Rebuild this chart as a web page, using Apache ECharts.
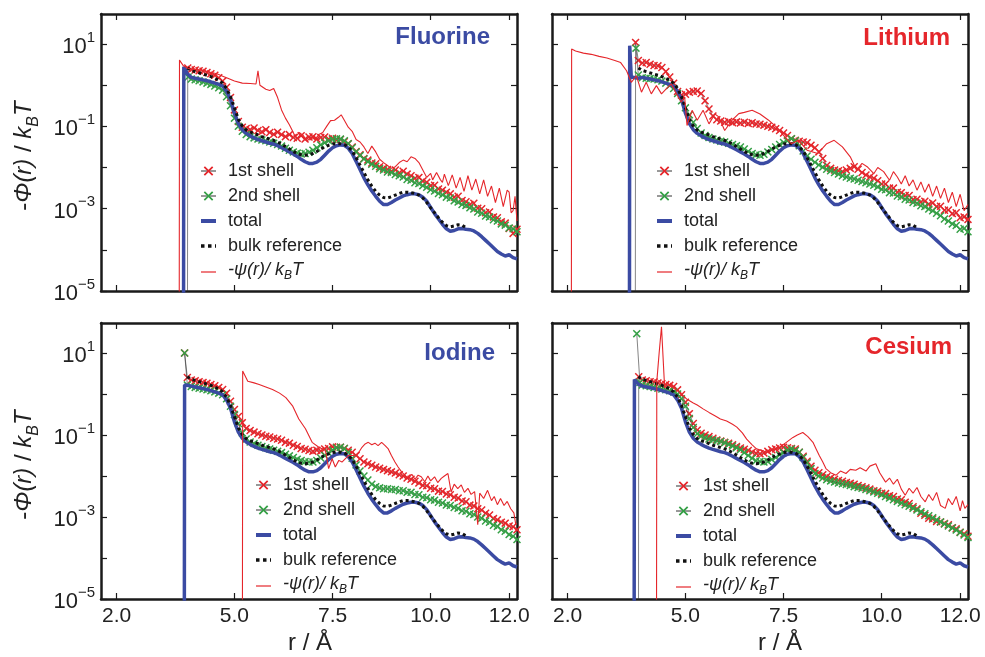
<!DOCTYPE html>
<html>
<head>
<meta charset="utf-8">
<script src="https://cdn.jsdelivr.net/npm/echarts@6/dist/echarts.min.js"></script>
<style>
html, body { margin: 0; background: #fff; }
#chart { width: 985px; height: 657px; }
</style>
</head>
<body>
<div id="chart"></div>
<script>
// all curve values are log10 of -phi(r)/kBT
var rGrid = [3.9, 4.0, 4.1, 4.2, 4.3, 4.4, 4.5, 4.6, 4.7, 4.8,
    4.9, 5.0, 5.1, 5.2, 5.3, 5.4, 5.5, 5.6, 5.7, 5.8,
    5.9, 6.0, 6.1, 6.2, 6.3, 6.4, 6.5, 6.6, 6.7, 6.8,
    6.9, 7.0, 7.1, 7.2, 7.3, 7.4, 7.5, 7.6, 7.7, 7.8,
    7.9, 8.0, 8.1, 8.2, 8.3, 8.4, 8.5, 8.6, 8.7, 8.8,
    8.9, 9.0, 9.1, 9.2, 9.3, 9.4, 9.5, 9.6, 9.7, 9.8,
    9.9, 10.0, 10.1, 10.2, 10.3, 10.4, 10.5, 10.6, 10.7, 10.8,
    10.9, 11.0, 11.1, 11.2, 11.3, 11.4, 11.5, 11.6, 11.7, 11.8,
    11.9, 12.0, 12.1, 12.2];

var xTicks = [2.0, 5.0, 7.5, 10.0, 12.0];
var yTicks = [-5, -4, -3, -2, -1, 0, 1];
var yLabels = [-5, -3, -1, 1];
var panelNames = ['Fluorine', 'Lithium', 'Iodine', 'Cesium'];

// total and bulk reference (same shape in every panel)
var totalLog = [0.19, 0.17, 0.15, 0.13, 0.11, 0.08, 0.05, 0.02, -0.02, -0.15,
    -0.35, -0.68, -0.93, -1.08, -1.17, -1.23, -1.28, -1.32, -1.35, -1.38,
    -1.41, -1.43, -1.47, -1.52, -1.57, -1.62, -1.67, -1.73, -1.8, -1.86,
    -1.9, -1.9, -1.87, -1.8, -1.7, -1.6, -1.52, -1.47, -1.45, -1.46,
    -1.53, -1.66, -1.85, -2.05, -2.25, -2.42, -2.57, -2.7, -2.82, -2.9,
    -2.9, -2.85, -2.79, -2.74, -2.69, -2.66, -2.64, -2.64, -2.66, -2.72,
    -2.82, -2.97, -3.12, -3.25, -3.38, -3.49, -3.55, -3.53, -3.49, -3.48,
    -3.5, -3.51, -3.54, -3.6, -3.68, -3.77, -3.86, -3.95, -4.04, -4.1,
    -4.15, -4.12, -4.19, -4.22];
var bulkHead = [[3.8, 0.42]];
var bulkLog = [0.36, 0.33, 0.3, 0.27, 0.24, 0.21, 0.17, 0.12, 0.05, -0.08,
    -0.28, -0.55, -0.83, -0.99, -1.09, -1.14, -1.17, -1.21, -1.25, -1.28,
    -1.31, -1.34, -1.38, -1.43, -1.49, -1.55, -1.61, -1.66, -1.69, -1.7,
    -1.69, -1.66, -1.61, -1.55, -1.5, -1.46, -1.43, -1.42, -1.42, -1.44,
    -1.5, -1.6, -1.76, -1.94, -2.12, -2.3, -2.45, -2.58, -2.67, -2.73,
    -2.74, -2.71, -2.67, -2.63, -2.6, -2.6, -2.61, -2.63, -2.67, -2.74,
    -2.85, -2.98, -3.1, -3.22, -3.33, -3.41, -3.44, -3.42, -3.39, -3.4, -3.46];

var fluorineTotalHead = [[3.7, -9], [3.71, 0.45], [3.8, 0.28]];
var lithiumTotalHead = [[3.57, -9], [3.58, 0.96], [3.62, 0.2], [3.8, 0.17]];
var iodineTotalHead = [[3.72, -9], [3.73, 0.22], [3.8, 0.21]];
var cesiumTotalHead = [[3.69, -9], [3.7, 0.35], [3.8, 0.24]];

// Fluorine
var fluorineFirstHead = [[3.8, -9], [3.81, 0.42]];
var fluorineFirstLog = [0.38, 0.37, 0.35, 0.34, 0.31, 0.28, 0.24, 0.18, 0.1, -0.05,
    -0.3, -0.6, -0.88, -1.02, -1.05, -1.08, -1.04, -1.1, -1.13, -1.08,
    -1.15, -1.19, -1.14, -1.2, -1.25, -1.2, -1.27, -1.29, -1.23, -1.31,
    -1.26, -1.25, -1.31, -1.27, -1.26, -1.31, -1.29, -1.33, -1.32, -1.37,
    -1.42, -1.5, -1.61, -1.69, -1.78, -1.82, -1.89, -1.91, -1.98, -2.02,
    -2.05, -2.09, -2.06, -2.13, -2.09, -2.16, -2.2, -2.26, -2.24, -2.33,
    -2.36, -2.44, -2.43, -2.52, -2.55, -2.6, -2.64, -2.72, -2.7, -2.8,
    -2.83, -2.9, -2.87, -2.99, -3.0, -3.1, -3.08, -3.2, -3.22, -3.32,
    -3.35, -3.48, -3.6, -3.5];
var fluorineSecondHead = [[3.82, 0.2]];
var fluorineSecondLog = [0.15, 0.13, 0.11, 0.08, 0.05, 0.02, -0.02, -0.06, -0.12, -0.28,
    -0.5, -0.8, -1.0, -1.12, -1.2, -1.25, -1.28, -1.31, -1.33, -1.35,
    -1.38, -1.41, -1.44, -1.48, -1.53, -1.58, -1.62, -1.65, -1.67, -1.66,
    -1.63, -1.58, -1.52, -1.45, -1.4, -1.35, -1.32, -1.3, -1.31, -1.35,
    -1.42, -1.52, -1.62, -1.71, -1.79, -1.86, -1.92, -1.97, -2.03, -2.06,
    -2.11, -2.12, -2.17, -2.2, -2.23, -2.29, -2.31, -2.37, -2.39, -2.44,
    -2.48, -2.54, -2.57, -2.63, -2.66, -2.72, -2.74, -2.81, -2.84, -2.9,
    -2.92, -2.98, -3.01, -3.08, -3.11, -3.18, -3.2, -3.27, -3.3, -3.37,
    -3.4, -3.47, -3.49, -3.56];
var fluorinePsi = [[3.59, -9], [3.6, 0.61], [3.7, 0.47], [3.8, 0.42], [3.9, 0.39], [4.0, 0.38],
    [4.2, 0.36], [4.4, 0.31], [4.5, 0.29], [4.6, 0.26], [4.7, 0.22], [4.8, 0.18], [5.0, 0.1],
    [5.2, 0.05], [5.4, 0.04], [5.55, 0.03], [5.6, 0.35], [5.65, 0.0], [5.8, -0.1], [5.9, -0.13],
    [6.0, -0.08], [6.1, -0.3], [6.2, -0.6], [6.3, -0.8], [6.4, -0.96], [6.5, -1.15], [6.55, -1.26],
    [6.65, -1.15], [6.75, -1.22], [6.85, -1.36], [6.95, -1.26], [7.05, -1.32], [7.15, -1.2],
    [7.25, -1.15], [7.35, -1.0], [7.45, -0.86], [7.55, -0.85], [7.65, -0.78], [7.72, -0.72],
    [7.8, -0.85], [7.9, -1.02], [8.0, -1.12], [8.1, -1.32], [8.2, -1.38], [8.3, -1.5], [8.4, -1.66],
    [8.5, -1.48], [8.6, -1.62], [8.7, -1.8], [8.8, -1.88], [8.9, -1.95], [9.0, -2.02], [9.1, -1.98],
    [9.2, -1.88], [9.3, -1.82], [9.4, -1.86], [9.5, -1.74], [9.6, -1.78], [9.7, -1.88], [9.8, -2.06],
    [9.9, -2.24], [10.0, -2.14], [10.05, -2.3], [10.1, -2.32], [10.15, -2.12], [10.2, -2.1],
    [10.25, -2.3], [10.3, -2.36], [10.35, -2.16], [10.4, -2.18], [10.45, -2.44], [10.5, -2.42],
    [10.55, -2.18], [10.6, -2.2], [10.65, -2.5], [10.7, -2.46], [10.75, -2.24], [10.8, -2.28],
    [10.85, -2.58], [10.9, -2.56], [10.95, -2.2], [11.0, -2.24], [11.05, -2.55], [11.1, -2.52],
    [11.15, -2.28], [11.2, -2.3], [11.25, -2.64], [11.3, -2.62], [11.35, -2.3], [11.4, -2.34],
    [11.45, -2.7], [11.5, -2.66], [11.55, -2.45], [11.6, -2.48], [11.65, -2.85], [11.7, -2.82],
    [11.75, -2.5], [11.8, -2.52], [11.85, -2.95], [11.9, -2.92], [11.95, -2.55], [12.0, -2.6],
    [12.05, -3.1], [12.1, -3.05], [12.15, -2.7], [12.2, -3.3]];

// Lithium
var lithiumFirstHead = [[3.72, -9], [3.73, 1.04], [3.8, 0.6]];
var lithiumFirstLog = [0.54, 0.55, 0.51, 0.48, 0.47, 0.43, 0.33, 0.2, 0.05, -0.15,
    -0.24, -0.22, -0.17, -0.15, -0.14, -0.2, -0.38, -0.58, -0.75, -0.84,
    -0.87, -0.9, -0.88, -0.91, -0.89, -0.92, -0.9, -0.93, -0.91, -0.94,
    -0.95, -0.97, -1.0, -1.02, -1.06, -1.1, -1.16, -1.22, -1.3, -1.34,
    -1.36, -1.38, -1.4, -1.46, -1.52, -1.62, -1.78, -1.95, -2.02, -2.06,
    -2.08, -2.1, -2.06, -2.02, -1.98, -2.04, -2.12, -2.18, -2.23, -2.26,
    -2.32, -2.4, -2.4, -2.5, -2.5, -2.6, -2.61, -2.68, -2.68, -2.78,
    -2.77, -2.84, -2.82, -2.89, -2.86, -2.95, -2.94, -3.04, -3.03, -3.12,
    -3.1, -3.22, -3.2, -3.26];
var lithiumSecondHead = [[3.74, 0.9], [3.8, 0.25]];
var lithiumSecondLog = [0.18, 0.17, 0.16, 0.15, 0.13, 0.1, 0.05, -0.01, -0.08, -0.2,
    -0.38, -0.55, -0.72, -0.9, -1.05, -1.16, -1.22, -1.27, -1.31, -1.33,
    -1.36, -1.38, -1.41, -1.44, -1.47, -1.5, -1.55, -1.61, -1.66, -1.69,
    -1.7, -1.68, -1.62, -1.56, -1.5, -1.44, -1.39, -1.35, -1.3, -1.35,
    -1.47, -1.6, -1.72, -1.8, -1.87, -1.94, -1.99, -2.04, -2.08, -2.12,
    -2.16, -2.2, -2.23, -2.26, -2.28, -2.31, -2.34, -2.37, -2.4, -2.43,
    -2.47, -2.53, -2.54, -2.61, -2.62, -2.69, -2.71, -2.77, -2.79, -2.85,
    -2.87, -2.93, -2.95, -3.01, -3.05, -3.11, -3.17, -3.25, -3.3, -3.37,
    -3.41, -3.5, -3.48, -3.56];
var lithiumPsi = [[2.09, -9], [2.1, 0.88], [2.2, 0.83], [2.4, 0.78], [2.6, 0.75], [2.8, 0.7],
    [3.0, 0.66], [3.2, 0.6], [3.35, 0.55], [3.5, 0.35], [3.62, 0.07], [3.75, 0.23], [3.88, -0.17],
    [4.0, 0.07], [4.13, -0.21], [4.26, -0.01], [4.39, -0.21], [4.51, -0.09], [4.64, 0.03],
    [4.77, -0.21], [4.89, -0.41], [4.98, -0.29], [5.04, -0.98], [5.17, -0.61], [5.3, -0.85],
    [5.45, -0.61], [5.6, -0.94], [5.75, -0.7], [5.85, -0.77], [6.0, -1.1], [6.19, -0.85],
    [6.36, -0.69], [6.5, -0.66], [6.7, -0.61], [6.9, -0.7], [7.12, -0.85], [7.3, -1.0],
    [7.54, -1.26], [7.7, -1.42], [7.88, -1.34], [8.1, -1.58], [8.37, -1.66], [8.6, -1.42],
    [8.79, -1.34], [9.0, -1.5], [9.2, -1.74], [9.36, -2.06], [9.5, -1.9], [9.63, -1.98],
    [9.8, -2.15], [9.9, -2.0], [10.05, -2.1], [10.2, -2.31], [10.3, -2.1], [10.4, -2.23],
    [10.5, -2.4], [10.6, -2.2], [10.7, -2.45], [10.8, -2.3], [10.9, -2.55], [11.0, -2.35],
    [11.1, -2.6], [11.2, -2.4], [11.3, -2.7], [11.4, -2.45], [11.5, -2.75], [11.6, -2.5],
    [11.7, -2.85], [11.8, -2.6], [11.9, -2.95], [12.0, -2.65], [12.1, -3.05], [12.2, -2.9]];

// Iodine
var iodineFirstHead = [[3.73, 1.0], [3.8, 0.4]];
var iodineFirstLog = [0.34, 0.32, 0.3, 0.28, 0.26, 0.23, 0.2, 0.16, 0.11, 0.02,
    -0.18, -0.38, -0.55, -0.7, -0.84, -0.89, -0.93, -0.97, -1.0, -1.03,
    -1.05, -1.08, -1.1, -1.13, -1.18, -1.2, -1.25, -1.28, -1.33, -1.35,
    -1.38, -1.4, -1.37, -1.39, -1.34, -1.33, -1.29, -1.3, -1.3, -1.33,
    -1.37, -1.42, -1.5, -1.58, -1.66, -1.7, -1.74, -1.78, -1.81, -1.84,
    -1.87, -1.9, -1.93, -1.97, -2.0, -2.05, -2.08, -2.13, -2.17, -2.23,
    -2.24, -2.3, -2.31, -2.37, -2.38, -2.44, -2.46, -2.52, -2.54, -2.61,
    -2.63, -2.71, -2.73, -2.8, -2.83, -2.91, -2.95, -3.04, -3.07, -3.13,
    -3.15, -3.22, -3.24, -3.31];
var iodineSecondHead = [[3.73, 1.0], [3.8, 0.22]];
var iodineSecondLog = [0.18, 0.16, 0.14, 0.12, 0.1, 0.08, 0.05, 0.02, -0.02, -0.12,
    -0.3, -0.5, -0.72, -0.95, -1.1, -1.17, -1.21, -1.25, -1.28, -1.31,
    -1.34, -1.37, -1.4, -1.43, -1.47, -1.51, -1.55, -1.59, -1.62, -1.65,
    -1.66, -1.66, -1.62, -1.56, -1.5, -1.44, -1.37, -1.31, -1.3, -1.33,
    -1.42, -1.57, -1.73, -1.88, -2.0, -2.1, -2.2, -2.26, -2.29, -2.31,
    -2.31, -2.33, -2.33, -2.36, -2.36, -2.4, -2.4, -2.45, -2.46, -2.52,
    -2.53, -2.58, -2.59, -2.64, -2.66, -2.71, -2.72, -2.77, -2.79, -2.85,
    -2.86, -2.92, -2.94, -3.0, -3.03, -3.1, -3.13, -3.2, -3.23, -3.31,
    -3.35, -3.43, -3.47, -3.55];
var iodinePsi = [[5.2, -9], [5.21, 0.56], [5.34, 0.31], [5.5, 0.27], [5.63, 0.23], [5.8, 0.17],
    [5.97, 0.11], [6.15, 0.02], [6.31, -0.09], [6.48, -0.29], [6.64, -0.61], [6.81, -0.85],
    [6.98, -1.18], [7.15, -1.3], [7.32, -1.38], [7.4, -1.82], [7.49, -1.58], [7.57, -1.78],
    [7.66, -1.62], [7.74, -1.66], [7.91, -1.5], [8.08, -1.5], [8.17, -1.42], [8.25, -1.3],
    [8.33, -1.22], [8.41, -1.18], [8.5, -1.24], [8.58, -1.2], [8.66, -1.26], [8.75, -1.18],
    [8.84, -1.26], [8.92, -1.34], [9.0, -1.5], [9.09, -1.66], [9.17, -1.78], [9.26, -1.9],
    [9.34, -1.98], [9.43, -2.06], [9.52, -1.96], [9.6, -2.08], [9.68, -1.98], [9.76, -2.02],
    [9.85, -2.14], [9.93, -2.0], [10.0, -2.12], [10.1, -2.02], [10.18, -2.16], [10.27, -2.06],
    [10.35, -2.0], [10.44, -1.94], [10.52, -2.39], [10.6, -2.2], [10.69, -2.31], [10.78, -2.22],
    [10.86, -2.4], [10.95, -2.3], [11.03, -2.45], [11.12, -2.38], [11.2, -3.19], [11.25, -2.42],
    [11.35, -2.55], [11.45, -2.35], [11.55, -2.6], [11.62, -2.5], [11.7, -2.7], [11.78, -2.55],
    [11.87, -2.72], [11.95, -2.62], [12.04, -2.8], [12.12, -2.9], [12.17, -3.19]];

// Cesium
var cesiumFirstHead = [[3.8, -9], [3.81, 0.42]];
var cesiumFirstLog = [0.34, 0.32, 0.3, 0.29, 0.27, 0.25, 0.23, 0.21, 0.18, 0.1,
    -0.02, -0.2, -0.48, -0.72, -0.88, -0.96, -1.0, -1.04, -1.08, -1.12,
    -1.15, -1.18, -1.2, -1.24, -1.28, -1.32, -1.35, -1.38, -1.42, -1.45,
    -1.46, -1.44, -1.4, -1.36, -1.34, -1.32, -1.3, -1.31, -1.33, -1.34,
    -1.42, -1.52, -1.64, -1.76, -1.86, -1.92, -1.97, -2.02, -2.05, -2.08,
    -2.11, -2.13, -2.16, -2.18, -2.2, -2.23, -2.26, -2.29, -2.32, -2.36,
    -2.37, -2.42, -2.43, -2.48, -2.5, -2.56, -2.58, -2.64, -2.67, -2.75,
    -2.8, -2.91, -2.96, -3.03, -3.05, -3.11, -3.12, -3.16, -3.19, -3.26,
    -3.29, -3.37, -3.41, -3.47];
var cesiumSecondHead = [[3.76, 1.47], [3.84, 0.28]];
var cesiumSecondLog = [0.22, 0.2, 0.18, 0.16, 0.14, 0.12, 0.1, 0.08, 0.05, 0.0,
    -0.12, -0.3, -0.6, -0.82, -0.97, -1.03, -1.07, -1.1, -1.12, -1.14,
    -1.16, -1.19, -1.23, -1.27, -1.31, -1.36, -1.43, -1.5, -1.57, -1.63,
    -1.65, -1.66, -1.65, -1.6, -1.55, -1.49, -1.43, -1.37, -1.34, -1.38,
    -1.42, -1.55, -1.68, -1.82, -1.94, -2.0, -2.05, -2.09, -2.12, -2.15,
    -2.17, -2.19, -2.21, -2.23, -2.26, -2.28, -2.3, -2.33, -2.36, -2.39,
    -2.42, -2.46, -2.5, -2.54, -2.58, -2.62, -2.66, -2.7, -2.74, -2.79,
    -2.83, -2.87, -2.92, -2.97, -3.02, -3.07, -3.12, -3.17, -3.22, -3.27,
    -3.32, -3.38, -3.44, -3.5];
var cesiumPsi = [[4.26, -9], [4.27, 0.3], [4.33, 1.0], [4.39, 1.64], [4.47, 0.15], [4.55, 0.22],
    [4.62, 0.23], [4.7, 0.14], [4.8, 0.08], [4.9, 0.0], [5.04, -0.13], [5.2, -0.22], [5.3, -0.27],
    [5.46, -0.37], [5.6, -0.45], [5.75, -0.53], [5.89, -0.61], [6.05, -0.66], [6.2, -0.74],
    [6.31, -0.81], [6.45, -0.95], [6.56, -1.1], [6.7, -1.24], [6.81, -1.34], [6.95, -1.38],
    [7.07, -1.42], [7.23, -1.36], [7.4, -1.3], [7.57, -1.18], [7.74, -1.06], [7.85, -1.0],
    [7.99, -0.94], [8.12, -1.04], [8.25, -1.18], [8.33, -1.34], [8.41, -1.5], [8.5, -1.66],
    [8.58, -1.82], [8.7, -1.92], [8.84, -1.98], [8.95, -1.88], [9.09, -1.94], [9.2, -1.84],
    [9.34, -1.86], [9.45, -1.8], [9.6, -1.88], [9.7, -1.76], [9.85, -1.7], [9.95, -1.92],
    [10.1, -2.15], [10.2, -2.05], [10.3, -2.2], [10.4, -2.08], [10.5, -2.32], [10.6, -2.47],
    [10.7, -2.3], [10.8, -2.42], [10.9, -2.28], [11.0, -2.5], [11.11, -2.63], [11.2, -2.45],
    [11.3, -2.6], [11.4, -2.4], [11.5, -2.72], [11.62, -2.79], [11.7, -2.55], [11.8, -2.7],
    [11.9, -2.5], [12.0, -2.85], [12.06, -2.6], [12.12, -2.79], [12.2, -2.7]];

var FONT = '"Liberation Sans", Arial, Helvetica, sans-serif';
var RED = '#e5262b';
var BLUE = '#3b4ba3';
var GREEN = '#35a046';
var INK = '#1a1a1a';
var PSI = '-\u03c8(r)/ kBT';
var xMark = 'path://M0,1.3L1.3,0L5,3.7L8.7,0L10,1.3L6.3,5L10,8.7L8.7,10L5,6.3L1.3,10L0,8.7L3.7,5Z';

function onGrid(head, body) {
    var pts = head.slice();
    for (var k = 0; k < body.length; k++) pts.push([rGrid[k], body[k]]);
    return pts;
}

var panels = [
    {first: onGrid(fluorineFirstHead, fluorineFirstLog), second: onGrid(fluorineSecondHead, fluorineSecondLog),
        total: onGrid(fluorineTotalHead, totalLog), psi: fluorinePsi},
    {first: onGrid(lithiumFirstHead, lithiumFirstLog), second: onGrid(lithiumSecondHead, lithiumSecondLog),
        total: onGrid(lithiumTotalHead, totalLog), psi: lithiumPsi},
    {first: onGrid(iodineFirstHead, iodineFirstLog), second: onGrid(iodineSecondHead, iodineSecondLog),
        total: onGrid(iodineTotalHead, totalLog), psi: iodinePsi},
    {first: onGrid(cesiumFirstHead, cesiumFirstLog), second: onGrid(cesiumSecondHead, cesiumSecondLog),
        total: onGrid(cesiumTotalHead, totalLog), psi: cesiumPsi}
];

var grids = [
    {left: 101, top: 14, width: 416, height: 277},
    {left: 552, top: 14, width: 416, height: 277},
    {left: 101, top: 323, width: 416, height: 276},
    {left: 552, top: 323, width: 416, height: 276}
];

var xAxes = [], yAxes = [], series = [];

function xAxis(i, pos, labels) {
    return {
        type: 'value', gridIndex: i, position: pos, min: 1.6, max: 12.2,
        axisLine: {show: true, onZero: false, lineStyle: {color: INK, width: 2.5}},
        axisTick: {show: true, inside: true, length: 6, customValues: xTicks, lineStyle: {color: INK, width: 1.2}},
        axisLabel: {show: labels, customValues: xTicks, margin: 7, fontSize: 21, fontFamily: FONT, color: '#222',
            formatter: function (v) { return v.toFixed(1); }},
        splitLine: {show: false}
    };
}

function yAxis(i, pos, labels) {
    return {
        type: 'value', gridIndex: i, position: pos, min: -5, max: 1.73, interval: 1,
        axisLine: {show: true, onZero: false, lineStyle: {color: INK, width: 2.5}},
        axisTick: {show: true, inside: true, length: 6, customValues: yTicks, lineStyle: {color: INK, width: 1.2}},
        axisLabel: {show: labels, customValues: yLabels, margin: 6, fontSize: 22, fontFamily: FONT, color: '#222',
            formatter: function (v) {
                var e = v < 0 ? '\u2212' + (-v) : String(v);
                return '{b|10}{s|' + e + '}';
            },
            rich: {
                b: {fontSize: 22, fontFamily: FONT, color: '#222', padding: [6, 0, 0, 0]},
                s: {fontSize: 15, fontFamily: FONT, color: '#222', verticalAlign: 'top'}
            }},
        splitLine: {show: false}
    };
}

for (var i = 0; i < 4; i++) {
    xAxes.push(xAxis(i, 'bottom', i >= 2));
    xAxes.push(xAxis(i, 'top', false));
    yAxes.push(yAxis(i, 'left', i % 2 === 0));
    yAxes.push(yAxis(i, 'right', false));
    var p = panels[i];
    var base = {type: 'line', xAxisIndex: 2 * i, yAxisIndex: 2 * i, clip: true, silent: true,
        emphasis: {disabled: true}, animation: false};
    series.push(Object.assign({}, base, {name: '1st shell', data: p.first, symbol: xMark, symbolSize: 8,
        itemStyle: {color: RED}, lineStyle: {color: '#333', width: 0.6}, z: 2}));
    series.push(Object.assign({}, base, {name: '2nd shell', data: p.second, symbol: xMark, symbolSize: 8,
        itemStyle: {color: GREEN}, lineStyle: {color: '#333', width: 0.6}, z: 3}));
    series.push(Object.assign({}, base, {name: 'total', data: p.total, symbol: 'none',
        itemStyle: {color: BLUE}, lineStyle: {color: BLUE, width: 3.5}, z: 4}));
    series.push(Object.assign({}, base, {name: 'bulk reference', data: onGrid(bulkHead, bulkLog), symbol: 'none',
        itemStyle: {color: '#111'}, lineStyle: {color: '#111', width: 3, type: [3, 3]}, z: 5}));
    series.push(Object.assign({}, base, {name: PSI, data: p.psi, symbol: 'none',
        itemStyle: {color: RED}, lineStyle: {color: RED, width: 1.1}, z: 6}));
}

// plain line icons (no marker) for the three unmarked curves
var legendData = [
    {name: '1st shell', lineStyle: {width: 1}},
    {name: '2nd shell', lineStyle: {width: 1}},
    {name: 'total', itemStyle: {opacity: 0}, lineStyle: {width: 4}},
    {name: 'bulk reference', itemStyle: {opacity: 0}, lineStyle: {width: 3.5, type: [3.5, 3.5]}},
    {name: PSI, itemStyle: {opacity: 0}, lineStyle: {width: 1.2}}
];
var legendPos = [[199, 161], [655, 161], [254, 475], [674, 476]];
var legends = legendPos.map(function (pos) {
    return {
        left: pos[0], top: pos[1], orient: 'vertical', data: legendData, selectedMode: false,
        itemWidth: 15, itemHeight: 12, itemGap: 5, padding: 0,
        formatter: function (name) {
            return name === PSI ? '{i|-\u03c8(r)/ k}{sub|B}{i|T}' : '{n|' + name + '}';
        },
        textStyle: {
            fontSize: 18, fontFamily: FONT, color: '#222', lineHeight: 20, padding: [0, 0, 0, 7],
            rich: {
                n: {fontSize: 18, fontFamily: FONT, color: '#222', lineHeight: 20},
                i: {fontSize: 18, fontFamily: FONT, color: '#222', fontStyle: 'italic', padding: [0, 0, 4, 0]},
                sub: {fontSize: 12, fontFamily: FONT, color: '#222', fontStyle: 'italic', verticalAlign: 'bottom'}
            }
        }
    };
});

var titleRich = {
    n: {fontSize: 24, fontFamily: FONT, fill: '#222', color: '#222', padding: [0, 0, 6, 0]},
    i: {fontSize: 24, fontFamily: FONT, fill: '#222', color: '#222', fontStyle: 'italic', padding: [0, 0, 6, 0]},
    sub: {fontSize: 16, fontFamily: FONT, fill: '#222', color: '#222', fontStyle: 'italic', verticalAlign: 'bottom'}
};
var yTitle = '{n|-}{i|\u03a6(r)}{n| / }{i|k}{sub|B}{i|T}';

function label(x, y, text, color) {
    return {type: 'text', x: x, y: y, silent: true,
        style: {text: text, align: 'right', verticalAlign: 'middle', fontSize: 24, fontWeight: 'bold',
            fontFamily: FONT, fill: color}};
}

var graphics = [
    label(490, 37, panelNames[0], BLUE),
    label(950, 38, panelNames[1], RED),
    label(495, 353, panelNames[2], BLUE),
    label(952, 347, panelNames[3], RED),
    {type: 'text', x: 27, y: 156, rotation: Math.PI / 2, silent: true,
        style: {text: yTitle, rich: titleRich, align: 'center', verticalAlign: 'middle', fontSize: 24, fontFamily: FONT, fill: '#222'}},
    {type: 'text', x: 27, y: 465, rotation: Math.PI / 2, silent: true,
        style: {text: yTitle, rich: titleRich, align: 'center', verticalAlign: 'middle', fontSize: 24, fontFamily: FONT, fill: '#222'}},
    {type: 'text', x: 310, y: 643, silent: true,
        style: {text: 'r / \u00c5', align: 'center', verticalAlign: 'middle', fontSize: 24, fontFamily: FONT, fill: '#222'}},
    {type: 'text', x: 780, y: 643, silent: true,
        style: {text: 'r / \u00c5', align: 'center', verticalAlign: 'middle', fontSize: 24, fontFamily: FONT, fill: '#222'}}
];

var chart = echarts.init(document.getElementById('chart'), null, {renderer: 'canvas'});
chart.setOption({
    backgroundColor: '#fff',
    animation: false,
    grid: grids,
    xAxis: xAxes,
    yAxis: yAxes,
    legend: legends,
    series: series,
    graphic: graphics
});
</script>
</body>
</html>
